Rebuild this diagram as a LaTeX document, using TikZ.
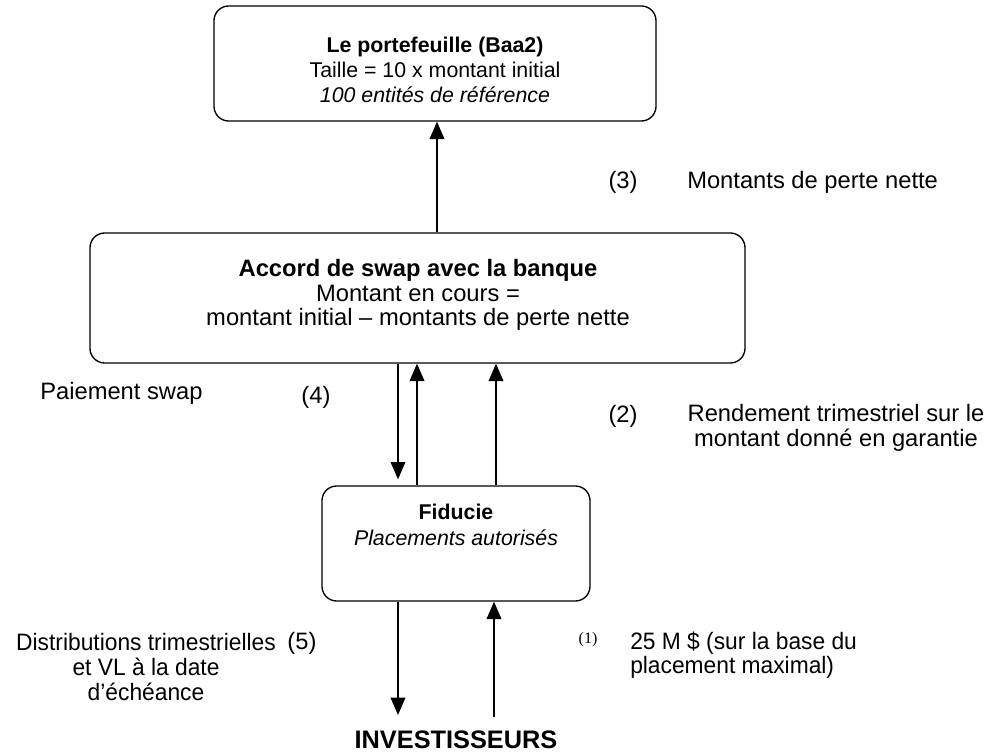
\documentclass[tikz,border=0pt]{standalone}
\usepackage{fontspec}
\setmainfont{Liberation Sans}
\newfontfamily\serifone{Liberation Serif}
\newfontfamily\narrowsans[FakeStretch=0.96]{Liberation Sans}
\usetikzlibrary{arrows.meta}
\begin{document}
\begin{tikzpicture}[x=0.75pt,y=-0.75pt,
  every node/.style={font=\fontsize{17.8}{18.4}\selectfont, inner sep=0pt},
  small/.style={font=\fontsize{16}{18.8}\selectfont},
  box/.style={draw, line width=1pt, rounded corners=11pt},
  conn/.style={line width=1pt, -{Triangle[length=13pt,width=11pt]}},
  lbl/.style={align=left, anchor=west},
  txt/.style={align=center}]
\useasboundingbox (0,0) rectangle (990,753);
% boxes
\node[box, minimum width=331.5pt, minimum height=86.25pt] (port) at (435,63.5) {};
\node[txt, small] (porttxt) at (435,70) {\textbf{Le portefeuille (Baa2)}\\Taille = 10 x montant initial\\\textit{100 entités de référence}};
\node[box, minimum width=491.25pt, minimum height=97.5pt] (swap) at (417.5,298) {};
\node[txt] (swaptxt) at (418,295) {\textbf{Accord de swap avec la banque}\\Montant en cours =\\montant initial – montants de perte nette};
\node[box, minimum width=201pt, minimum height=86.25pt] (fid) at (456,543.5) {};
\node[txt, font=\fontsize{16}{19.5}\selectfont] (fidtxt) at (456,525) {\textbf{Fiducie}\\\textit{Placements autorisés}};
\node[font=\fontsize{19}{22}\selectfont\bfseries] (inv) at (456,740) {INVESTISSEURS};
% connectors
\draw[conn] (swap.north -| 437,0) -- (port.south -| 437,0);
\draw[conn] (swap.south -| 398,0) -- ([yshift=4.5pt]fid.north -| 398,0);
\draw[conn] (fid.north -| 417,0) -- (swap.south -| 417,0);
\draw[conn] (fid.north -| 496,0) -- (swap.south -| 496,0);
\coordinate (invL) at (398,715);
\coordinate (invR) at (494,717);
\draw[conn] (fid.south -| 398,0) -- (invL);
\draw[conn] (invR) -- (fid.south -| 494,0);
% labels
\node (n3) at (623,182) {(3)};
\node[lbl] (l3) at (687,182) {Montants de perte nette};
\node[lbl] (l4a) at (40,393) {Paiement swap};
\node (n4) at (316,397) {(4)};
\node (n2) at (623,416) {(2)};
\node[align=center] (l2) at (836,428) {Rendement trimestriel sur le\\montant donné en garantie};
\node[align=center, font=\narrowsans\fontsize{17.8}{18.4}\selectfont] (l5) at (146,667) {Distributions trimestrielles\\et VL à la date\\d’échéance};
\node (n5) at (302,643) {(5)};
\node[font=\serifone\fontsize{12}{14}\selectfont] (n1) at (588,640) {(1)};
\node[lbl, font=\narrowsans\fontsize{17.8}{18.4}\selectfont] (l1) at (630,655) {25 M \$ (sur la base du\\placement maximal)};
\end{tikzpicture}
\end{document}
